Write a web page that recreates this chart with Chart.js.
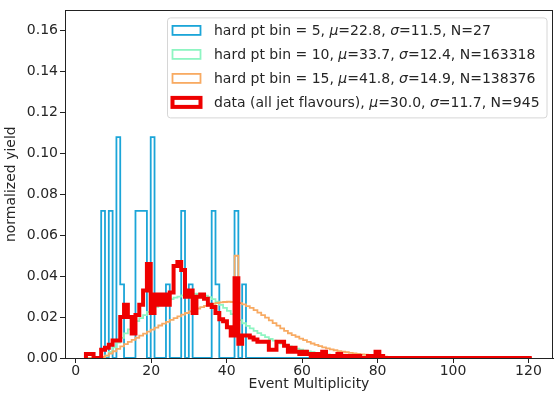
<!DOCTYPE html>
<html>
<head>
<meta charset="utf-8">
<script src="https://cdn.jsdelivr.net/npm/chart.js@4.4.0/dist/chart.umd.min.js"></script>
<style>
  html, body { margin: 0; padding: 0; background: #fff; }
  #chart { display: block; }
</style>
</head>
<body>
<canvas id="chart" width="555" height="394"></canvas>
<script>
// histogram binning (Event Multiplicity)
const BIN_LOW = 2.7
const BIN_WIDTH = 1.01

const xTicks = [0, 20, 40, 60, 80, 100, 120]
const yTicks = [0, 0.02, 0.04, 0.06, 0.08, 0.1, 0.12, 0.14, 0.16]

const seriesLabels = [
  'hard pt bin = 5, μ=22.8, σ=11.5, N=27',
  'hard pt bin = 10, μ=33.7, σ=12.4, N=163318',
  'hard pt bin = 15, μ=41.8, σ=14.9, N=138376',
  'data (all jet flavours), μ=30.0, σ=11.7, N=945',
]

// normalized yield per bin
const ptBin5 = [
  0, 0, 0, 0, 0.072, 0, 0.072, 0, 0.108, 0.036,
  0, 0, 0, 0.072, 0.072, 0.072, 0, 0.108, 0, 0,
  0, 0.036, 0, 0, 0, 0.072, 0, 0.036, 0, 0,
  0, 0, 0, 0.072, 0.036, 0, 0, 0, 0, 0.072,
  0, 0.036, 0, 0, 0, 0, 0, 0, 0, 0,
  0, 0, 0, 0, 0, 0, 0, 0, 0, 0,
  0, 0, 0, 0, 0, 0, 0, 0, 0, 0,
  0, 0, 0, 0, 0, 0, 0, 0, 0, 0,
  0, 0, 0, 0, 0, 0, 0, 0, 0, 0,
  0, 0, 0, 0, 0, 0, 0, 0, 0, 0,
  0, 0, 0, 0, 0, 0, 0, 0, 0, 0,
  0, 0, 0, 0, 0, 0, 0,
]

const ptBin10 = [
  0, 0, 0, 0, 0.0003, 0.0012, 0.003, 0.0052, 0.0075, 0.0098,
  0.012, 0.014, 0.016, 0.018, 0.0195, 0.021, 0.0225, 0.024, 0.025, 0.026,
  0.027, 0.028, 0.0288, 0.0295, 0.030, 0.0306, 0.031, 0.0312, 0.0315, 0.0313,
  0.031, 0.0305, 0.0298, 0.0288, 0.0275, 0.026, 0.0245, 0.023, 0.0215, 0.020,
  0.0185, 0.017, 0.0157, 0.0145, 0.0133, 0.0122, 0.0112, 0.0102, 0.0093, 0.0085,
  0.0077, 0.007, 0.0063, 0.0057, 0.0051, 0.0046, 0.0041, 0.0036, 0.0032, 0.0028,
  0.0025, 0.0022, 0.0019, 0.0017, 0.0015, 0.0013, 0.0011, 0.001, 0.0008, 0.0007,
  0.0006, 0.0005, 0.0004, 0.0003, 0.0003, 0.0002, 0.0002, 0.0001, 0.0001, 0.0001,
  0.0001, 0, 0, 0, 0, 0, 0, 0, 0, 0,
  0, 0, 0, 0, 0, 0, 0, 0, 0, 0,
  0, 0, 0, 0, 0, 0, 0, 0, 0, 0,
  0, 0, 0, 0, 0, 0, 0,
]

const ptBin15 = [
  0, 0, 0, 0, 0.0005, 0.0012, 0.0022, 0.0033, 0.0045, 0.0057,
  0.0068, 0.0079, 0.0089, 0.0099, 0.0109, 0.0119, 0.0129, 0.0139, 0.0149, 0.0159,
  0.0168, 0.0177, 0.0186, 0.0195, 0.0204, 0.0212, 0.022, 0.0228, 0.0235, 0.0242,
  0.0249, 0.0255, 0.026, 0.0265, 0.0269, 0.0272, 0.0274, 0.0275, 0.0274, 0.05,
  0.0268, 0.0262, 0.0254, 0.0245, 0.0234, 0.0222, 0.021, 0.0197, 0.0184, 0.0171,
  0.0158, 0.0145, 0.0133, 0.0121, 0.0112, 0.0104, 0.0095, 0.0087, 0.0079, 0.0071,
  0.0064, 0.0058, 0.0052, 0.0047, 0.0042, 0.0038, 0.0034, 0.0031, 0.0028, 0.0025,
  0.0022, 0.002, 0.0018, 0.0016, 0.0014, 0.0012, 0.001, 0.0009, 0.0007, 0.0005,
  0.0003, 0.0002, 0.0001, 0.0001, 0, 0, 0, 0, 0, 0,
  0, 0, 0, 0, 0, 0, 0, 0, 0, 0,
  0, 0, 0, 0, 0, 0, 0, 0, 0, 0,
  0, 0, 0, 0, 0, 0, 0,
]

const dataAllJets = [
  0.002, 0.002, 0, 0, 0.004, 0.005, 0.0065, 0.0085, 0.0085, 0.020,
  0.026, 0.020, 0.012, 0.021, 0.026, 0.033, 0.046, 0.022, 0.031, 0.026,
  0.031, 0.026, 0.032, 0.045, 0.047, 0.043, 0.030, 0.033, 0.022, 0.030,
  0.031, 0.029, 0.026, 0.025, 0.022, 0.019, 0.018, 0.015, 0.011, 0.039,
  0.007, 0.011, 0.011, 0.010, 0.009, 0.008, 0.008, 0.008, 0.004, 0.004,
  0.008, 0.008, 0.006, 0.003, 0.005, 0.003, 0.002, 0.003, 0.002, 0.001,
  0.002, 0.001, 0.003, 0.001, 0.001, 0.001, 0.002, 0.001, 0, 0.001,
  0, 0.001, 0, 0, 0.001, 0, 0.003, 0.001, 0, 0,
  0, 0, 0, 0, 0, 0, 0, 0, 0, 0,
  0, 0, 0, 0, 0, 0, 0, 0, 0, 0,
  0, 0, 0, 0, 0, 0, 0, 0, 0, 0,
  0, 0, 0, 0, 0, 0, 0,
]

const binEdges = Array.from({ length: ptBin5.length + 1 }, (_, i) => BIN_LOW + i * BIN_WIDTH)

// outline of a step histogram, like histtype='step'
function stepPoints(values) {
  const pts = [{ x: binEdges[0], y: 0 }]
  values.forEach((v, i) => pts.push({ x: binEdges[i], y: v }))
  pts.push({ x: binEdges[values.length], y: values[values.length - 1] })
  pts.push({ x: binEdges[values.length], y: 0 })
  return pts
}

const styles = [
  { color: '#1ba5d8', width: 1.8 },
  { color: '#8ef5c2', width: 1.8 },
  { color: '#f8aa62', width: 1.8 },
  { color: '#ee0000', width: 4 },
]

const FONT = 'DejaVu Sans'
const TEXT = '#262626'

Chart.defaults.font.family = FONT
Chart.defaults.font.size = 14
Chart.defaults.color = TEXT

const frame = {
  id: 'frame',
  afterDatasetsDraw(chart) {
    const a = chart.chartArea
    const ctx = chart.ctx
    ctx.save()
    ctx.strokeStyle = '#222'
    ctx.lineWidth = 1
    ctx.strokeRect(Math.round(a.left) + 0.5, Math.round(a.top) + 0.5,
      Math.round(a.right - a.left) - 1, Math.round(a.bottom - a.top))
    ctx.restore()
  },
}

function drawMixed(ctx, text, x, y) {
  for (const ch of text) {
    const italic = ch === 'μ' || ch === 'σ'
    ctx.font = (italic ? 'italic ' : '') + '14px "' + FONT + '"'
    ctx.fillText(ch, x, y)
    x += ctx.measureText(ch).width
  }
}

function mixedWidth(ctx, text) {
  let w = 0
  for (const ch of text) {
    const italic = ch === 'μ' || ch === 'σ'
    ctx.font = (italic ? 'italic ' : '') + '14px "' + FONT + '"'
    w += ctx.measureText(ch).width
  }
  return w
}

const boxLegend = {
  id: 'boxLegend',
  afterDraw(chart) {
    const a = chart.chartArea
    const ctx = chart.ctx
    ctx.save()
    const maxW = Math.max(...seriesLabels.map((t) => mixedWidth(ctx, t)))
    const right = a.right - 6
    const top = a.top + 7.5
    const left = Math.round(right - 7 - maxW - 47) + 0.5
    const h = 100
    ctx.beginPath()
    ctx.roundRect(left, top, right - left, h, 3)
    ctx.fillStyle = 'rgba(255,255,255,0.85)'
    ctx.fill()
    ctx.strokeStyle = '#d6d6d6'
    ctx.lineWidth = 1
    ctx.stroke()
    seriesLabels.forEach((label, i) => {
      const cy = top + 12.5 + 24 * i
      ctx.strokeStyle = styles[i].color
      ctx.lineWidth = styles[i].width
      ctx.lineJoin = 'miter'
      ctx.strokeRect(left + 5, cy - 4.5, 28, 9)
      ctx.fillStyle = TEXT
      ctx.textBaseline = 'alphabetic'
      drawMixed(ctx, label, left + 46.5, cy + 5)
    })
    ctx.restore()
  },
}

const allSeries = [ptBin5, ptBin10, ptBin15, dataAllJets]

new Chart(document.getElementById('chart').getContext('2d'), {
  type: 'line',
  data: {
    datasets: allSeries.map((values, i) => ({
      label: seriesLabels[i],
      data: stepPoints(values),
      stepped: true,
      borderColor: styles[i].color,
      borderWidth: styles[i].width,
      borderJoinStyle: 'miter',
      pointRadius: 0,
      fill: false,
      tension: 0,
      clip: 0,
      order: allSeries.length - i,
    })),
  },
  options: {
    animation: false,
    responsive: false,
    devicePixelRatio: 1,
    events: [],
    layout: { padding: { top: 6, right: 2, left: 0, bottom: 0 } },
    plugins: {
      legend: { display: false },
      tooltip: { enabled: false },
    },
    scales: {
      x: {
        type: 'linear',
        min: -2.85,
        max: 126.5,
        afterBuildTicks: (scale) => {
          scale.ticks = xTicks.map((v) => ({ value: v }))
        },
        afterFit: (scale) => {
          scale.height = 36
        },
        ticks: {
          maxRotation: 0,
          padding: 0,
          color: TEXT,
          font: { size: 14 },
          callback: (v) => String(v),
        },
        grid: { drawOnChartArea: false, drawTicks: true, tickLength: 5, color: '#222' },
        border: { display: true, color: '#222', width: 1 },
        title: {
          display: true,
          text: 'Event Multiplicity',
          color: TEXT,
          font: { size: 14 },
          padding: { top: 0, bottom: 1 },
        },
      },
      y: {
        type: 'linear',
        min: 0,
        max: 0.17,
        afterBuildTicks: (scale) => {
          scale.ticks = yTicks.map((v) => ({ value: v }))
        },
        afterFit: (scale) => {
          scale.width = 65
        },
        ticks: {
          padding: 2,
          color: TEXT,
          font: { size: 14 },
          callback: (v) => v.toFixed(2),
        },
        grid: { drawOnChartArea: false, drawTicks: true, tickLength: 5, color: '#222' },
        border: { display: true, color: '#222', width: 1 },
        title: {
          display: true,
          text: 'normalized yield',
          color: TEXT,
          font: { size: 14 },
          padding: { top: 3, bottom: 0 },
        },
      },
    },
  },
  plugins: [frame, boxLegend],
})
</script>
</body>
</html>
